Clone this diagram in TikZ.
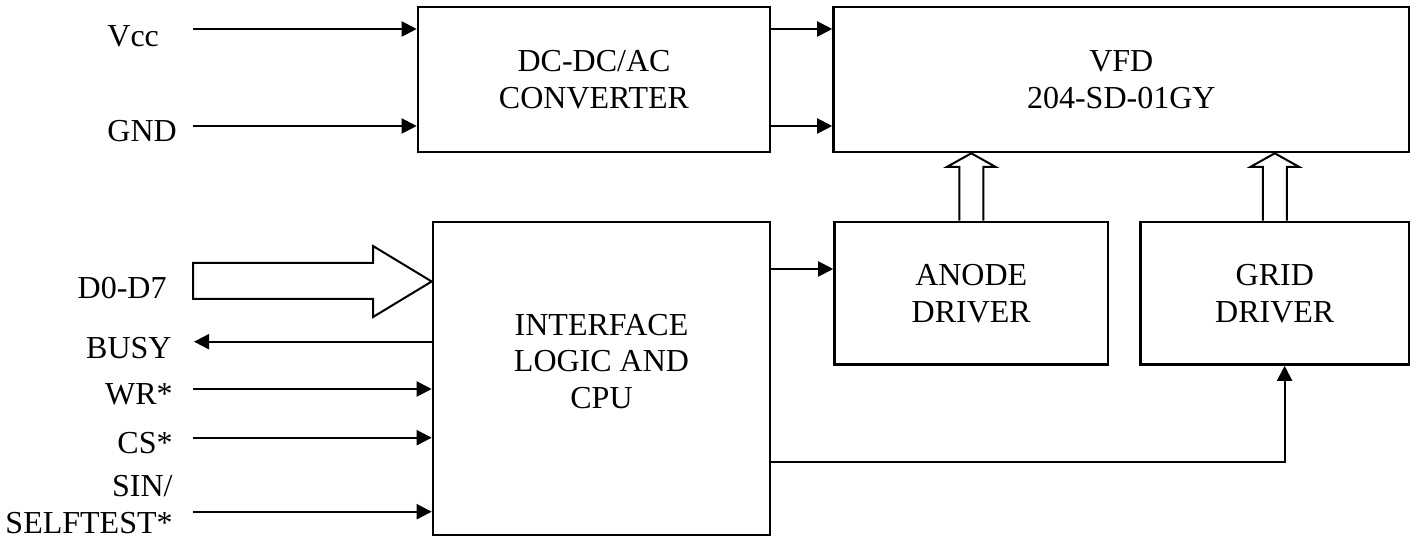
\documentclass[tikz,border=0pt]{standalone}
\usepackage{fontspec}
\setmainfont{Liberation Serif}
\usetikzlibrary{arrows.meta,calc}
\begin{document}
\begin{tikzpicture}[x=0.5pt,y=-0.5pt,
  every node/.style={font=\fontsize{16}{18.4}\selectfont},
  box/.style={draw,line width=1.3pt,rectangle,inner sep=0pt,align=center},
  lbl/.style={inner sep=0pt,align=center},
  sig/.style={inner sep=0pt},
  arr/.style={line width=1pt,-{Triangle[length=7.5pt,width=7.5pt]}},
  hollow/.style={draw,fill=white,line width=1pt,line join=miter}]
\useasboundingbox (0,0) rectangle (1416,539);
% blocks
\node[box,minimum width=176pt,minimum height=72.5pt] (dc) at (594,79.5) {DC-DC/AC\\CONVERTER};
\node[box,minimum width=287.75pt,minimum height=72.5pt] (vfd) at (1121.25,79.5) {VFD\\204-SD-01GY};
\node[box,minimum width=168.5pt,minimum height=156.5pt] (iface) at (601.5,378.5) {};
\node[lbl] (ifacetext) at (601.5,361.5) {INTERFACE\\LOGIC AND\\CPU};
\node[box,minimum width=136.75pt,minimum height=71.25pt] (anode) at (971.25,293.25) {ANODE\\DRIVER};
\node[box,minimum width=134.25pt,minimum height=71.25pt] (grid) at (1274.75,293.25) {GRID\\DRIVER};
% signal labels
\node[sig,anchor=base west] (vcc) at (107,46.7) {Vcc};
\node[sig,anchor=base west] (gnd) at (107,141.7) {GND};
\node[sig,anchor=base east] (data) at (167,299) {D0-D7};
\node[sig,anchor=base east] (busy) at (172,358) {BUSY};
\node[sig,anchor=base east] (wr) at (173,404.5) {WR*};
\node[sig,anchor=base east] (cs) at (173,453.5) {CS*};
\node[sig,anchor=base east,align=right] (sin) at (173,533.5) {SIN/\\SELFTEST*};
% start points
\coordinate (vccS) at (193,29);
\coordinate (gndS) at (193,126);
\coordinate (busyE) at (194,341.7);
\coordinate (wrS) at (193,389);
\coordinate (csS) at (193,437.7);
\coordinate (sinS) at (193,511.7);
\coordinate (anodeIn) at (0,269);
\coordinate (gridIn) at (1284.6,461.7);
% connectors
\draw[arr] (vccS) -- (vccS -| dc.west);
\draw[arr] (gndS) -- (gndS -| dc.west);
\draw[arr] (vccS -| dc.east) -- (vccS -| vfd.west);
\draw[arr] (gndS -| dc.east) -- (gndS -| vfd.west);
\draw[arr] (busyE -| iface.west) -- (busyE);
\draw[arr] (wrS) -- (wrS -| iface.west);
\draw[arr] (csS) -- (csS -| iface.west);
\draw[arr] (sinS) -- (sinS -| iface.west);
\draw[arr] (anodeIn -| iface.east) -- (anodeIn -| anode.west);
\draw[arr] (gridIn -| iface.east) -- (gridIn) -- (gridIn |- grid.south);
% hollow bus arrows
\path[hollow] (193,263) -- (373,263) -- (373,246) -- (iface.west |- 0,281.5) -- (373,317) -- (373,299) -- (193,299) -- cycle;
\path[hollow] ($(anode.north)+(-12,0)$) -- ($(anode.north |- 0,167)+(-12,0)$) -- ($(anode.north |- 0,167)+(-24.5,0)$)
  -- (anode.north |- vfd.south) -- ($(anode.north |- 0,167)+(24.5,0)$) -- ($(anode.north |- 0,167)+(12,0)$) -- ($(anode.north)+(12,0)$);
\path[hollow] ($(grid.north)+(-12,0)$) -- ($(grid.north |- 0,167)+(-12,0)$) -- ($(grid.north |- 0,167)+(-24.5,0)$)
  -- (grid.north |- vfd.south) -- ($(grid.north |- 0,167)+(24.5,0)$) -- ($(grid.north |- 0,167)+(12,0)$) -- ($(grid.north)+(12,0)$);
\end{tikzpicture}
\end{document}
